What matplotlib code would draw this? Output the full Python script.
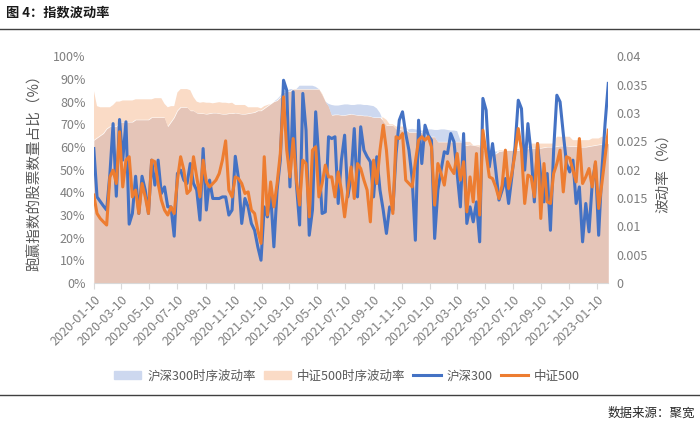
import numpy as np
import pandas as pd
import matplotlib
matplotlib.use('Agg')
import matplotlib.pyplot as plt
from matplotlib.lines import Line2D
from matplotlib.patches import Patch
from matplotlib.ticker import FuncFormatter

plt.rcParams['font.family'] = ['Noto Sans CJK SC', 'DejaVu Sans']

# weekly observations, Fridays
dates = pd.date_range('2020-01-10', periods=161, freq='7D')
tick_dates = [pd.Timestamp('2020-01-10') + pd.DateOffset(months=2 * k) for k in range(19)]

# share of stocks beating the index (%)
hs300 = [59.3, 38.0, 36.0, 34.0, 32.2, 48.0, 70.3, 38.3, 72.1, 54.2,
         71.1, 26.0, 30.7, 47.1, 30.7, 47.1, 41.0, 30.7, 54.2, 43.2,
         54.2, 39.5, 42.4, 33.6, 33.6, 20.7, 48.3, 49.8, 45.4, 43.9,
         52.7, 43.9, 41.0, 27.8, 59.3, 32.2, 45.4, 37.3, 37.3, 37.3,
         38.0, 38.0, 30.0, 32.2, 55.9, 46.1, 26.3, 37.3, 33.6, 26.3,
         23.3, 16.0, 10.1, 33.6, 29.2, 39.5, 16.0, 41.0, 54.2, 89.4,
         85.0, 42.4, 84.3, 43.9, 25.6, 83.6, 67.4, 21.1, 32.2, 75.5,
         54.2, 30.7, 31.4, 64.5, 63.7, 64.5, 35.1, 54.2, 65.2, 38.0,
         46.8, 68.1, 38.0, 68.9, 58.6, 55.7, 53.5, 38.0, 55.7, 41.0,
         32.2, 21.9, 33.6, 32.2, 57.1, 71.8, 75.5, 65.9, 58.6, 46.1,
         18.9, 71.8, 52.7, 69.6, 65.2, 63.0, 19.7, 41.0, 49.8, 57.9,
         57.1, 65.9, 62.3, 48.3, 33.6, 65.9, 26.3, 33.6, 27.0, 35.8,
         18.2, 81.4, 76.2, 51.2, 61.5, 49.8, 36.6, 41.0, 46.1, 35.1,
         46.8, 60.1, 80.6, 76.9, 49.8, 70.3, 57.1, 35.8, 61.5, 46.8,
         35.8, 48.3, 23.3, 58.6, 82.8, 79.9, 65.9, 52.7, 49.0, 54.2,
         35.1, 42.4, 18.2, 35.1, 22.6, 43.9, 52.7, 21.1, 49.8, 70.3,
         88.0]
zz500 = [38.8, 30.7, 28.5, 27.0, 25.6, 46.8, 49.8, 43.9, 66.7, 42.4,
         54.2, 55.7, 38.0, 41.0, 30.7, 43.9, 38.0, 30.7, 54.2, 53.5,
         43.9, 36.6, 32.2, 30.0, 33.6, 30.7, 45.4, 55.7, 49.8, 39.5,
         41.0, 55.7, 46.8, 38.0, 54.2, 44.6, 42.4, 43.9, 45.4, 48.3,
         54.2, 62.7, 41.0, 38.0, 46.8, 46.1, 43.9, 39.5, 40.2, 32.2,
         30.7, 23.3, 17.5, 55.7, 30.0, 44.6, 33.6, 43.9, 57.1, 82.1,
         58.6, 46.8, 63.7, 45.4, 34.4, 54.2, 52.7, 29.2, 58.6, 60.1,
         38.0, 43.9, 52.0, 46.8, 46.8, 38.0, 49.0, 41.0, 29.2, 41.0,
         51.2, 37.3, 52.7, 50.5, 45.4, 41.0, 27.0, 54.2, 43.9, 58.6,
         69.6, 58.6, 41.0, 30.7, 64.5, 63.7, 65.9, 45.4, 43.9, 42.4,
         53.5, 63.0, 64.5, 63.0, 64.5, 60.1, 34.4, 52.7, 48.3, 43.2,
         53.5, 50.5, 48.3, 57.1, 45.4, 53.5, 31.4, 46.8, 35.8, 57.1,
         30.0, 67.4, 57.1, 46.8, 46.1, 42.4, 37.3, 43.2, 58.6, 41.7,
         48.3, 57.1, 68.1, 58.6, 35.1, 47.6, 46.8, 38.0, 61.5, 28.5,
         52.7, 35.8, 35.1, 48.3, 52.7, 58.6, 40.2, 55.7, 55.0, 49.8,
         44.6, 63.7, 43.9, 46.8, 50.5, 42.4, 53.5, 32.9, 43.9, 55.7,
         67.4]

# rolling volatility
hs300_vol = [.0252, .0256, .0260, .0264, .0272, .0276, .0276, .0276, .0284, .0284,
             .0284, .0284, .0284, .0288, .0288, .0288, .0288, .0288, .0292, .0292,
             .0292, .0292, .0292, .0276, .0284, .0292, .0304, .0310, .0310, .0310,
             .0304, .0304,
             .0300, .0299, .0299, .0298, .0299, .0300, .0300, .0299, .0298, .0298,
             .0299, .0299, .0300, .0299, .0298, .0298, .0299, .0300, .0301,
             .0304, .0304, .0308, .0312, .0316, .0320, .0324, .0330, .0338, .0338,
             .0342, .0342, .0342, .0348, .0348, .0348, .0348, .0348, .0346, .0342,
             .0332, .0320, .0316,
             .0314, .0313, .0313, .0314, .0315, .0315, .0314, .0314, .0315, .0315,
             .0314, .0314, .0313, .0312,
             .0308, .0300, .0286, .0278, .0278, .0278,
             .0272, .0271, .0270, .0270, .0271, .0272, .0271, .0270, .0269, .0270,
             .0271, .0271, .0270, .0270, .0271, .0271, .0270, .0269, .0269, .0268,
             .0252, .0243, .0243, .0244, .0243, .0242, .0240,
             .0236, .0235, .0234, .0233, .0232, .0232, .0233, .0234, .0234, .0234,
             .0235, .0236, .0236, .0236, .0237, .0238, .0238, .0238, .0238, .0239,
             .0240, .0240, .0240, .0241, .0242, .0242, .0242, .0241, .0241, .0241,
             .0240, .0240, .0240, .0241, .0242, .0243, .0244, .0245, .0246, .0246]
zz500_vol = [.0340, .0312, .0310, .0310, .0310, .0310, .0314, .0320, .0320,
             .0322, .0322, .0322, .0322,
             .0324, .0324, .0324, .0324, .0324, .0324,
             .0326, .0326, .0326,
             .0316, .0310, .0312, .0312,
             .0336, .0342, .0342, .0342, .0340, .0328, .0320,
             .0318, .0319, .0318, .0318, .0317, .0318, .0319, .0318, .0318, .0317, .0318,
             .0314, .0314, .0314, .0314,
             .0310, .0310, .0310, .0310,
             .0308, .0312, .0314, .0316, .0320, .0322, .0328, .0336, .0338, .0338,
             .0342, .0342, .0342, .0342, .0342, .0342, .0342, .0342, .0342,
             .0334, .0320, .0312,
             .0296, .0297, .0297, .0296, .0296, .0297, .0298, .0297, .0296, .0296,
             .0295, .0295, .0294,
             .0292, .0292, .0292, .0292,
             .0288, .0280, .0280,
             .0276, .0276, .0276, .0276,
             .0266, .0266, .0266, .0266, .0266,
             .0258, .0258, .0258, .0258,
             .0249, .0249, .0249, .0249, .0249, .0249, .0249, .0249, .0249, .0249, .0249,
             .0243, .0243, .0243,
             .0234, .0234, .0234,
             .0228, .0228,
             .0234, .0234, .0234, .0234, .0234, .0234, .0234,
             .0240, .0240, .0240,
             .0246, .0246, .0246, .0246, .0246, .0246, .0246, .0246,
             .0258, .0258, .0258, .0258, .0258,
             .0252, .0252, .0252, .0252, .0252, .0252,
             .0255, .0255, .0255,
             .0258, .0258, .0258]

c_blue = '#4472c4'
c_orange = '#ed7d31'
c_blue_fill = '#cdd8ef'
c_orange_fill = '#fadbc6'
c_overlap = '#e5c5b8'
grey = '#7f7f7f'

fig = plt.figure(figsize=(7, 4.29), dpi=100)
ax = fig.add_axes([0.134, 0.340, 0.735, 0.529])
ax2 = ax.twinx()

b = np.array(hs300_vol)
o = np.array(zz500_vol)
ax2.fill_between(dates, 0, np.minimum(b, o), color=c_overlap, lw=0)
ax2.fill_between(dates, o, b, where=b > o, interpolate=True, color=c_blue_fill, lw=0)
ax2.fill_between(dates, b, o, where=o > b, interpolate=True, color=c_orange_fill, lw=0)

ax.plot(dates, hs300, color=c_blue, lw=2.2)
ax.plot(dates, zz500, color=c_orange, lw=2.2)

ax.set_zorder(ax2.get_zorder() + 1)
ax.patch.set_visible(False)

ax.set_xlim(dates[0], dates[-1])
ax.set_ylim(0, 100)
ax2.set_ylim(0, 0.04)
ax.set_yticks(range(0, 101, 10))
ax.yaxis.set_major_formatter(FuncFormatter(lambda v, p: f'{v:.0f}%'))
ax2.set_yticks(np.arange(0, 0.0401, 0.005))
ax2.yaxis.set_major_formatter(FuncFormatter(lambda v, p: '0' if v == 0 else f'{v:g}'))

ax.set_xticks(tick_dates)
ax.set_xticklabels([d.strftime('%Y-%m-%d') for d in tick_dates], rotation=45,
                   ha='right', rotation_mode='anchor')

for a in (ax, ax2):
    for s in a.spines.values():
        s.set_visible(False)
ax.spines['bottom'].set_visible(True)
ax.spines['bottom'].set_color('#d9d9d9')

ax.tick_params(axis='x', length=4, color='#d9d9d9', labelcolor=grey, labelsize=9, pad=3)
ax.tick_params(axis='y', length=0, labelcolor=grey, labelsize=9, pad=6)
ax2.tick_params(axis='y', length=0, labelcolor=grey, labelsize=9, pad=6)

ax.set_ylabel('跑赢指数的股票数量占比（%）', color='#595959', fontsize=10.5, labelpad=8)
ax2.set_ylabel('波动率（%）', color='#595959', fontsize=10.5, labelpad=6)

handles = [Patch(color=c_blue_fill), Patch(color=c_orange_fill),
           Line2D([], [], color=c_blue, lw=2.2), Line2D([], [], color=c_orange, lw=2.2)]
labels = ['沪深300时序波动率', '中证500时序波动率', '沪深300', '中证500']
fig.legend(handles, labels, loc='center', bbox_to_anchor=(347 / 700, 1 - 376 / 429),
           ncol=4, frameon=False, fontsize=9, labelcolor='#595959', handlelength=2.2,
           handleheight=0.6, columnspacing=0.6, handletextpad=0.5)

fig.text(0.008, 1 - 12.5 / 429, '图 4：指数波动率', fontsize=9.5, fontweight='bold',
         va='center', ha='left', color='#1a1a1a')
fig.add_artist(Line2D([0, 1], [1 - 28.5 / 429] * 2, color='#404040', lw=1))
fig.add_artist(Line2D([0, 1], [1 - 395 / 429] * 2, color='#404040', lw=1))
fig.text(0.993, 1 - 413 / 429, '数据来源：聚宽', fontsize=9, va='center', ha='right',
         color='#262626')

fig.savefig('out.png', dpi=100)
